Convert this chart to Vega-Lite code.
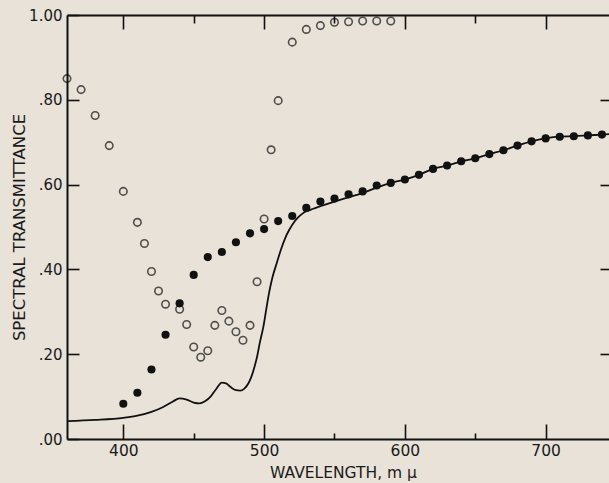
{
  "$schema": "https://vega.github.io/schema/vega-lite/v6.json",
  "width": 542,
  "height": 424,
  "autosize": {"type": "none"},
  "padding": {"left": 67, "top": 15, "right": 0, "bottom": 44},
  "background": "#e8e2d8",
  "config": {
    "view": {"stroke": null},
    "axis": {
      "labelFont": "DejaVu Sans",
      "titleFont": "DejaVu Sans",
      "labelColor": "#1a1a1a",
      "titleColor": "#1a1a1a",
      "titleFontWeight": "normal",
      "domainColor": "#111",
      "tickColor": "#111",
      "domainWidth": 2,
      "tickWidth": 1.6,
      "grid": false
    }
  },
  "datasets": {
    "pts": [
      {"series": "curve", "wl": 360, "t": 0.042},
      {"series": "curve", "wl": 380, "t": 0.045},
      {"series": "curve", "wl": 400, "t": 0.050},
      {"series": "curve", "wl": 410, "t": 0.055},
      {"series": "curve", "wl": 420, "t": 0.064},
      {"series": "curve", "wl": 428, "t": 0.075},
      {"series": "curve", "wl": 435, "t": 0.088},
      {"series": "curve", "wl": 440, "t": 0.096},
      {"series": "curve", "wl": 445, "t": 0.093},
      {"series": "curve", "wl": 450, "t": 0.086},
      {"series": "curve", "wl": 454, "t": 0.084},
      {"series": "curve", "wl": 458, "t": 0.089},
      {"series": "curve", "wl": 462, "t": 0.100},
      {"series": "curve", "wl": 466, "t": 0.118},
      {"series": "curve", "wl": 470, "t": 0.133},
      {"series": "curve", "wl": 473, "t": 0.131},
      {"series": "curve", "wl": 476, "t": 0.123},
      {"series": "curve", "wl": 480, "t": 0.115},
      {"series": "curve", "wl": 483, "t": 0.114},
      {"series": "curve", "wl": 486, "t": 0.119},
      {"series": "curve", "wl": 489, "t": 0.132},
      {"series": "curve", "wl": 491, "t": 0.147},
      {"series": "curve", "wl": 493, "t": 0.168},
      {"series": "curve", "wl": 495, "t": 0.194},
      {"series": "curve", "wl": 497, "t": 0.228},
      {"series": "curve", "wl": 499.5, "t": 0.265},
      {"series": "curve", "wl": 501.5, "t": 0.305},
      {"series": "curve", "wl": 503.5, "t": 0.344},
      {"series": "curve", "wl": 506, "t": 0.382},
      {"series": "curve", "wl": 509, "t": 0.415},
      {"series": "curve", "wl": 512, "t": 0.447},
      {"series": "curve", "wl": 515, "t": 0.474},
      {"series": "curve", "wl": 518, "t": 0.494},
      {"series": "curve", "wl": 521, "t": 0.510},
      {"series": "curve", "wl": 524, "t": 0.522},
      {"series": "curve", "wl": 527, "t": 0.531},
      {"series": "curve", "wl": 530, "t": 0.537},
      {"series": "curve", "wl": 535, "t": 0.543},
      {"series": "curve", "wl": 540, "t": 0.549},
      {"series": "curve", "wl": 550, "t": 0.560},
      {"series": "curve", "wl": 560, "t": 0.570},
      {"series": "curve", "wl": 570, "t": 0.580},
      {"series": "curve", "wl": 580, "t": 0.593},
      {"series": "curve", "wl": 590, "t": 0.604},
      {"series": "curve", "wl": 600, "t": 0.612},
      {"series": "curve", "wl": 610, "t": 0.623},
      {"series": "curve", "wl": 620, "t": 0.637},
      {"series": "curve", "wl": 630, "t": 0.645},
      {"series": "curve", "wl": 640, "t": 0.655},
      {"series": "curve", "wl": 650, "t": 0.662},
      {"series": "curve", "wl": 660, "t": 0.672},
      {"series": "curve", "wl": 670, "t": 0.681},
      {"series": "curve", "wl": 680, "t": 0.692},
      {"series": "curve", "wl": 690, "t": 0.702},
      {"series": "curve", "wl": 700, "t": 0.709},
      {"series": "curve", "wl": 710, "t": 0.713},
      {"series": "curve", "wl": 720, "t": 0.714},
      {"series": "curve", "wl": 730, "t": 0.716},
      {"series": "curve", "wl": 740, "t": 0.718},
      {"series": "curve", "wl": 750, "t": 0.720},

      {"series": "open", "wl": 360, "t": 0.850},
      {"series": "open", "wl": 370, "t": 0.824},
      {"series": "open", "wl": 380, "t": 0.763},
      {"series": "open", "wl": 390, "t": 0.692},
      {"series": "open", "wl": 400, "t": 0.584},
      {"series": "open", "wl": 410, "t": 0.511},
      {"series": "open", "wl": 415, "t": 0.461},
      {"series": "open", "wl": 420, "t": 0.395},
      {"series": "open", "wl": 425, "t": 0.349},
      {"series": "open", "wl": 430, "t": 0.318},
      {"series": "open", "wl": 440, "t": 0.306},
      {"series": "open", "wl": 445, "t": 0.270},
      {"series": "open", "wl": 450, "t": 0.217},
      {"series": "open", "wl": 455, "t": 0.193},
      {"series": "open", "wl": 460, "t": 0.208},
      {"series": "open", "wl": 465, "t": 0.268},
      {"series": "open", "wl": 470, "t": 0.303},
      {"series": "open", "wl": 475, "t": 0.278},
      {"series": "open", "wl": 480, "t": 0.253},
      {"series": "open", "wl": 485, "t": 0.233},
      {"series": "open", "wl": 490, "t": 0.268},
      {"series": "open", "wl": 495, "t": 0.371},
      {"series": "open", "wl": 500, "t": 0.519},
      {"series": "open", "wl": 505, "t": 0.682},
      {"series": "open", "wl": 510, "t": 0.798},
      {"series": "open", "wl": 520, "t": 0.936},
      {"series": "open", "wl": 530, "t": 0.966},
      {"series": "open", "wl": 540, "t": 0.975},
      {"series": "open", "wl": 550, "t": 0.983},
      {"series": "open", "wl": 560, "t": 0.984},
      {"series": "open", "wl": 570, "t": 0.986},
      {"series": "open", "wl": 580, "t": 0.986},
      {"series": "open", "wl": 590, "t": 0.986},

      {"series": "filled", "wl": 400, "t": 0.083},
      {"series": "filled", "wl": 410, "t": 0.109},
      {"series": "filled", "wl": 420, "t": 0.164},
      {"series": "filled", "wl": 430, "t": 0.246},
      {"series": "filled", "wl": 440, "t": 0.320},
      {"series": "filled", "wl": 450, "t": 0.387},
      {"series": "filled", "wl": 460, "t": 0.429},
      {"series": "filled", "wl": 470, "t": 0.441},
      {"series": "filled", "wl": 480, "t": 0.464},
      {"series": "filled", "wl": 490, "t": 0.485},
      {"series": "filled", "wl": 500, "t": 0.495},
      {"series": "filled", "wl": 510, "t": 0.514},
      {"series": "filled", "wl": 520, "t": 0.526},
      {"series": "filled", "wl": 530, "t": 0.545},
      {"series": "filled", "wl": 540, "t": 0.560},
      {"series": "filled", "wl": 550, "t": 0.567},
      {"series": "filled", "wl": 560, "t": 0.577},
      {"series": "filled", "wl": 570, "t": 0.584},
      {"series": "filled", "wl": 580, "t": 0.598},
      {"series": "filled", "wl": 590, "t": 0.604},
      {"series": "filled", "wl": 600, "t": 0.612},
      {"series": "filled", "wl": 610, "t": 0.623},
      {"series": "filled", "wl": 620, "t": 0.637},
      {"series": "filled", "wl": 630, "t": 0.645},
      {"series": "filled", "wl": 640, "t": 0.655},
      {"series": "filled", "wl": 650, "t": 0.662},
      {"series": "filled", "wl": 660, "t": 0.672},
      {"series": "filled", "wl": 670, "t": 0.681},
      {"series": "filled", "wl": 680, "t": 0.692},
      {"series": "filled", "wl": 690, "t": 0.702},
      {"series": "filled", "wl": 700, "t": 0.709},
      {"series": "filled", "wl": 710, "t": 0.713},
      {"series": "filled", "wl": 720, "t": 0.714},
      {"series": "filled", "wl": 730, "t": 0.716},
      {"series": "filled", "wl": 740, "t": 0.718},
      {"series": "filled", "wl": 750, "t": 0.720}
    ]
  },
  "data": {"name": "pts"},
  "resolve": {"axis": {"x": "independent", "y": "independent"}},
  "layer": [
    {
      "transform": [{"filter": "datum.series === 'curve'"}],
      "mark": {"type": "line", "color": "#111", "strokeWidth": 1.8, "interpolate": "monotone", "clip": true},
      "encoding": {
        "x": {
          "field": "wl", "type": "quantitative",
          "scale": {"domain": [360, 745], "nice": false, "zero": false},
          "axis": {
            "orient": "bottom",
            "values": [400, 450, 500, 550, 600, 650, 700],
            "tickSize": {"condition": {"test": "datum.value % 100 === 0", "value": -15}, "value": -6},
            "labelExpr": "datum.value % 100 === 0 ? datum.label : ''",
            "labelFontSize": 15.5,
            "labelPadding": 19,
            "title": "WAVELENGTH, m \u03bc",
            "titleFontSize": 15.5,
            "titleX": 276,
            "titleY": 38.5,
            "titleAlign": "center",
            "titleBaseline": "alphabetic"
          }
        },
        "y": {
          "field": "t", "type": "quantitative",
          "scale": {"domain": [0, 1], "nice": false},
          "axis": {
            "orient": "left",
            "values": [0, 0.2, 0.4, 0.6, 0.8, 1.0],
            "tickSize": -12,
            "labelExpr": "replace(format(datum.value, '.2f'), '0.', '.')",
            "labelFontSize": 15,
            "labelPadding": 17,
            "title": "SPECTRAL TRANSMITTANCE",
            "titleFontSize": 16.5,
            "titleAngle": -90,
            "titleX": -48,
            "titleY": 212,
            "titleAlign": "center",
            "titleBaseline": "middle"
          }
        }
      }
    },
    {
      "transform": [{"filter": "datum.series === 'open'"}],
      "mark": {"type": "point", "shape": "circle", "filled": false, "color": "#111", "strokeWidth": 1.6, "size": 56, "clip": false},
      "encoding": {
        "x": {
          "field": "wl", "type": "quantitative",
          "axis": {
            "orient": "top",
            "values": [400, 450, 500, 550, 600, 650, 700],
            "tickSize": {"condition": {"test": "datum.value % 100 === 0", "value": -14}, "value": -8},
            "labels": false,
            "title": null
          }
        },
        "y": {
          "field": "t", "type": "quantitative",
          "axis": {
            "orient": "right",
            "values": [0.2, 0.4, 0.6, 0.8],
            "tickSize": -9,
            "domain": false,
            "labels": false,
            "title": null
          }
        }
      }
    },
    {
      "transform": [{"filter": "datum.series === 'filled'"}],
      "mark": {"type": "circle", "color": "#111", "opacity": 1, "size": 66, "clip": true},
      "encoding": {
        "x": {"field": "wl", "type": "quantitative", "axis": null},
        "y": {"field": "t", "type": "quantitative", "axis": null}
      }
    }
  ]
}
